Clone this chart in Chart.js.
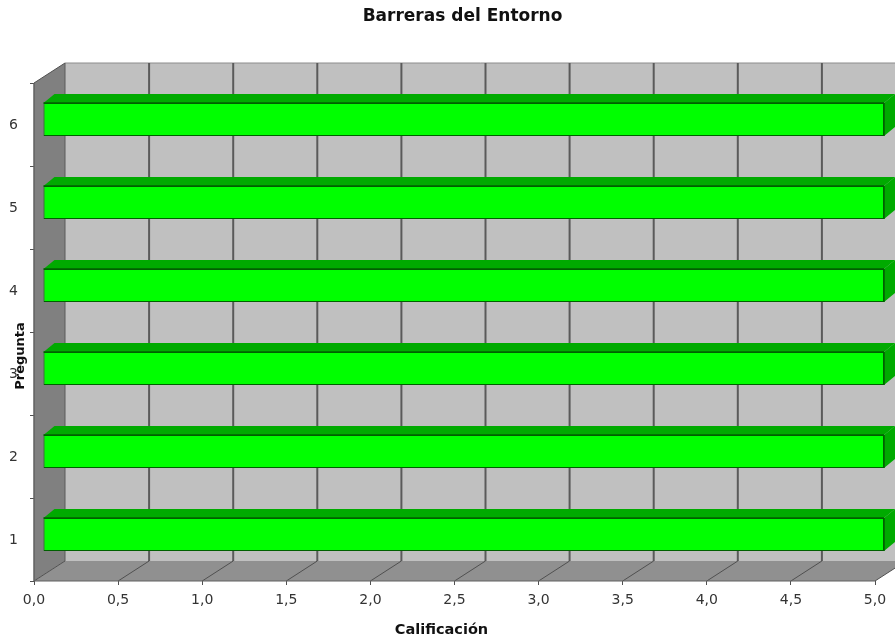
<!DOCTYPE html>
<html>
<head>
<meta charset="utf-8">
<title>Barreras del Entorno</title>
<script src="https://cdn.jsdelivr.net/npm/chart.js@4"></script>
<style>
	html, body { margin: 0; padding: 0; background: #fff; }
	#box { width: 895px; height: 641px; overflow: hidden; }
	#myChart { filter: blur(0.6px); }
</style>
</head>
<body>
<div id="box"><canvas id="myChart" width="895" height="641"></canvas></div>
<script>
let categories = ['1', '2', '3', '4', '5', '6']
let values = [5.0, 5.0, 5.0, 5.0, 5.0, 5.0]
let xTicks = ['0,0', '0,5', '1,0', '1,5', '2,0', '2,5', '3,0', '3,5', '4,0', '4,5', '5,0']

// depth of the fake 3d box and of the bars inside it
let wallDx = 31, wallDy = -20
let barDx = 9, barDy = -5
let topDx = 11, topDy = -9

let poly = (ctx, pts, fill) => {
	ctx.beginPath()
	pts.forEach((p, i) => i ? ctx.lineTo(p[0], p[1]) : ctx.moveTo(p[0], p[1]))
	ctx.closePath()
	ctx.fillStyle = fill
	ctx.fill()
}
let line = (ctx, x1, y1, x2, y2, color, lw) => {
	ctx.beginPath()
	ctx.moveTo(x1, y1)
	ctx.lineTo(x2, y2)
	ctx.strokeStyle = color
	ctx.lineWidth = lw
	ctx.stroke()
}

let box3d = {
	id: 'box3d',
	afterLayout: chart => {
		// titles do not sit on the centre of the plot in the original
		chart.titleBlock.left += 25
		chart.titleBlock.right += 25
		chart.scales.x.left -= 13
		chart.scales.x.right -= 13
		chart.scales.y.top += 24
		chart.scales.y.bottom += 24
	},
	beforeDatasetsDraw: chart => {
		let ctx = chart.ctx
		let a = chart.chartArea
		let x = chart.scales.x
		ctx.save()
		// back wall
		poly(ctx, [[a.left + wallDx, a.top + wallDy], [a.right + wallDx, a.top + wallDy], [a.right + wallDx, a.bottom + wallDy], [a.left + wallDx, a.bottom + wallDy]], '#c0c0c0')
		line(ctx, a.left + wallDx, a.top + wallDy, a.right + wallDx, a.top + wallDy, '#8c8c8c', 1)
		// floor
		poly(ctx, [[a.left, a.bottom], [a.right, a.bottom], [a.right + wallDx, a.bottom + wallDy], [a.left + wallDx, a.bottom + wallDy]], '#909090')
		// left wall
		poly(ctx, [[a.left, a.top], [a.left + wallDx, a.top + wallDy], [a.left + wallDx, a.bottom + wallDy], [a.left, a.bottom]], '#808080')
		// grid
		xTicks.forEach((t, i) => {
			let px = x.getPixelForValue(i * 0.5)
			if (i > 0) line(ctx, px + wallDx, a.top + wallDy, px + wallDx, a.bottom + wallDy, '#5a5a5a', 2)
			line(ctx, px, a.bottom, px + wallDx, a.bottom + wallDy, '#505050', 1)
		})
		line(ctx, a.left + wallDx, a.top + wallDy, a.left + wallDx, a.bottom + wallDy, '#5a5a5a', 1)
		line(ctx, a.left, a.top, a.left + wallDx, a.top + wallDy, '#505050', 1)
		line(ctx, a.left, a.bottom, a.right, a.bottom, '#606060', 1)
		line(ctx, a.left, a.top, a.left, a.bottom, '#606060', 1.5)
		ctx.restore()
	},
	beforeDatasetDraw: chart => {
		chart.ctx.save()
		chart.ctx.translate(barDx, barDy)
	},
	afterDatasetDraw: (chart, args) => {
		let ctx = chart.ctx
		args.meta.data.forEach(b => {
			let y1 = b.y - b.height / 2, y2 = b.y + b.height / 2
			poly(ctx, [[b.base, y1], [b.x, y1], [b.x + topDx, y1 + topDy], [b.base + topDx, y1 + topDy]], '#00aa00')
			poly(ctx, [[b.x, y1], [b.x + topDx, y1 + topDy], [b.x + topDx, y2 + topDy], [b.x, y2]], '#00aa00')
			line(ctx, b.base, y1, b.x, y1, '#006000', 1.5)
			line(ctx, b.x, y1, b.x, y2, '#006000', 1.5)
		})
		ctx.restore()
	}
}

new Chart(document.getElementById('myChart'), {
	type: 'bar',
	plugins: [box3d],
	data: {
		labels: categories,
		datasets: [{
			data: values,
			backgroundColor: '#00ff00',
			borderColor: '#006000',
			borderWidth: 1,
			borderSkipped: false,
			barPercentage: 0.4,
			categoryPercentage: 1,
			clip: false
		}]
	},
	options: {
		indexAxis: 'y',
		responsive: false,
		animation: false,
		layout: { padding: { left: 0, right: 20, top: 0, bottom: 0 } },
		plugins: {
			legend: { display: false },
			tooltip: { enabled: false },
			title: {
				display: true,
				text: 'Barreras del Entorno',
				color: '#111',
				font: { family: '"DejaVu Sans"', size: 17, weight: 'bold', lineHeight: 1.2 },
				padding: { top: 6, bottom: 56.6 }
			}
		},
		scales: {
			x: {
				type: 'linear',
				min: 0,
				max: 5,
				afterFit: s => { s.height = 60 },
				border: { display: false },
				grid: { drawOnChartArea: false, drawTicks: true, tickLength: 4, color: '#505050' },
				ticks: {
					stepSize: 0.5,
					maxRotation: 0,
					color: '#333',
					padding: 7,
					font: { family: '"DejaVu Sans"', size: 14 },
					callback: (v, i) => xTicks[i]
				},
				title: {
					display: true,
					text: 'Calificación',
					color: '#111',
					font: { family: '"DejaVu Sans"', size: 14.5, weight: 'bold' },
					padding: { top: 0, bottom: 2 }
				}
			},
			y: {
				type: 'category',
				reverse: true,
				afterFit: s => { s.width = 34 },
				border: { display: false },
				grid: { drawOnChartArea: false, drawTicks: true, tickLength: 4, color: '#505050' },
				ticks: {
					color: '#333',
					padding: 12,
					labelOffset: 1,
					font: { family: '"DejaVu Sans"', size: 14 }
				},
				title: {
					display: true,
					text: 'Pregunta',
					color: '#111',
					font: { family: '"DejaVu Sans"', size: 13, weight: 'bold' },
					padding: { top: 13, bottom: 0 }
				}
			}
		}
	}
})
</script>
</body>
</html>
